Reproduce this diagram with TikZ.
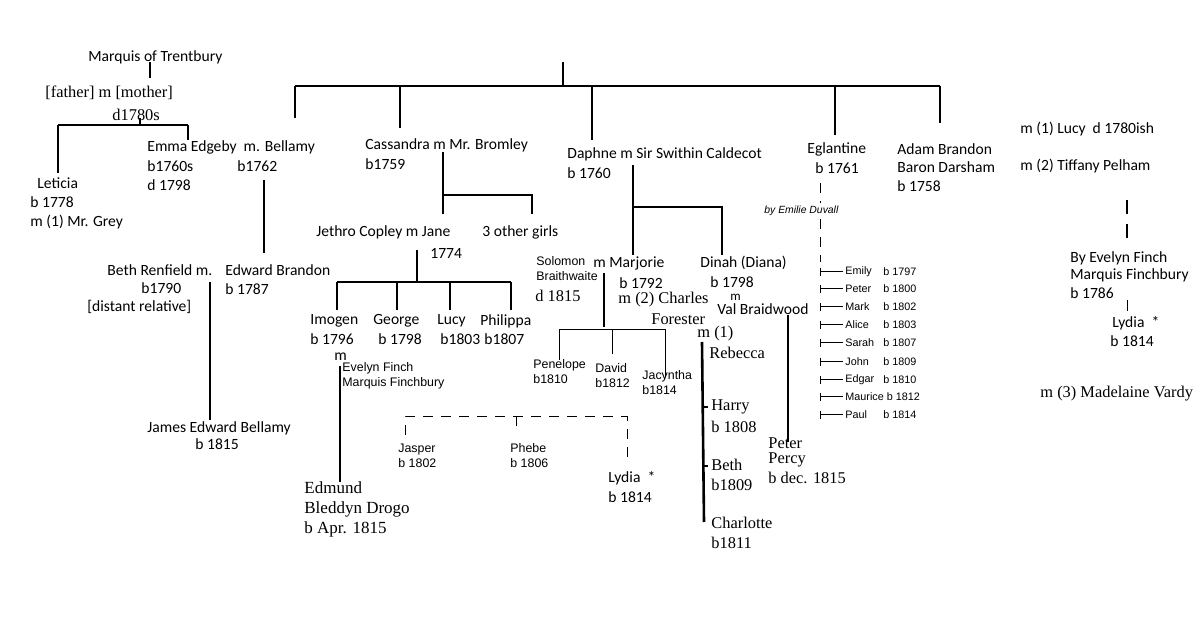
\documentclass[tikz,border=0pt]{standalone}
\usepackage{fontspec}
\setmainfont{Carlito}
\newfontfamily\serf{Liberation Serif}
\newfontfamily\arl{Liberation Sans}
\begin{document}
\begin{tikzpicture}[x=0.5pt,y=-0.5pt,
  t/.style={anchor=west,inner sep=0pt,font=\fontsize{7.8}{8.5}\selectfont,align=left},
  s/.style={anchor=west,inner sep=0pt,font=\fontsize{8.2}{9}\serf,align=left},
  a/.style={anchor=west,inner sep=0pt,font=\fontsize{6.2}{7.5}\arl,align=left},
  sm/.style={anchor=west,inner sep=0pt,font=\fontsize{5.4}{6}\arl},
  thk/.style={line width=1.3pt},
  thn/.style={line width=0.5pt},
  dsh/.style={line width=0.5pt,dash pattern=on 5pt off 4pt}]
\useasboundingbox (0,0) rectangle (1200,630);
\fill[white] (0,0) rectangle (1200,630);
% top structure
\draw[thk] (563,62)--(563,86);
\draw[thk] (295,86)--(940,86);
\draw[thk] (295,86)--(295,118);
\draw[line width=0.8pt] (400,86)--(400,128);
\draw[thk] (592,86)--(592,140);
\draw[thk] (835,86)--(835,135);
\draw[thk] (940,86)--(940,123);
% Marquis
\node[t] (mq) at (88,57) {Marquis of Trentbury};
\draw[thk] (150,62)--(150,78);
\node[s] (fm) at (45,93) {[father] m [mother]};
\node[s] (d80) at (112,115) {d1780s};
\draw[thk] (140,118)--(140,125);
\draw[thk] (58,125)--(188,125);
\draw[thk] (58,125)--(58,173);
\draw[thk] (188,125)--(188,140);
\node[t] (let) at (37,183) {Leticia};
\node[t] at (30,202) {b 1778};
\node[t] at (30,222) {m (1) Mr. Grey};
\node[t] (emma) at (147,147) {Emma Edgeby\ \ m. Bellamy};
\node[t] at (147,166) {b1760s};
\node[t] at (147,185) {d 1798};
\node[t] at (237,166) {b1762};
\draw[thk] (264,180)--(264,253);
\node[t] (beth) at (107,270) {Beth Renfield m.};
\node[t] at (141,288) {b1790};
\node[t] at (87,307) {[distant relative]};
\node[t] (edw) at (225,270) {Edward Brandon};
\node[t] at (225,289) {b 1787};
\draw[line width=0.7pt] (210,282)--(210,420);
\node[t] (jeb) at (147,428) {James Edward Bellamy};
\node[t] at (195,444) {b 1815};
% Cassandra
\node[t] (cas) at (365,145) {Cassandra m Mr. Bromley};
\node[t] at (365,164) {b1759};
\draw[thk] (443,152)--(443,214);
\draw[thk] (443,195)--(532,195)--(532,214);
\node[t] (jane) at (316,232) {Jethro Copley m Jane};
\node[t] at (482,232) {3 other girls};
\node[t] at (430,253) {1774};
\draw[thk] (417,250)--(417,282);
\draw[thk] (337,282)--(511,282);
\foreach \x in {337,397,450,511} \draw[thk] (\x,282)--(\x,310);
\node[t] (imo) at (310,321) {Imogen};
\node[t] at (373,321) {George};
\node[t] at (437,321) {Lucy};
\node[t] at (480,321) {Philippa};
\node[t] at (310,339) {b 1796};
\node[t] at (378,339) {b 1798};
\node[t] at (440,339) {b1803};
\node[t] at (484,339) {b1807};
\node[t] at (334,357) {m};
\draw[thk] (340,366)--(340,482);
\node[a] at (342,376) {Evelyn Finch\\Marquis Finchbury};
\draw[dsh] (405,435)--(405,417)--(627,417)--(627,460);
\draw[thn] (516,417)--(516,426);
\node[a] at (398,456) {Jasper\\b 1802};
\node[a] at (510,456) {Phebe\\b 1806};
\node[t] (lyd) at (608,478) {Lydia\ \ *};
\node[t] at (608,497) {b 1814};
\node[s,font=\fontsize{8.5}{10}\serf] (edm) at (304,509) {Edmund\\Bleddyn Drogo\\b Apr. 1815};
% Daphne
\node[t] (dap) at (567,154) {Daphne m Sir Swithin Caldecot};
\node[t] at (567,173) {b 1760};
\draw[thk] (633,165)--(633,255);
\draw[thk] (633,207)--(722,207)--(722,255);
\node[a] (sol) at (536,269) {Solomon\\Braithwaite};
\node[s] at (535,296) {d 1815};
\node[t] at (593,263) {m Marjorie};
\node[t] at (619,283) {b 1792};
\node[s] at (618,300) {m (2) Charles};
\node[s] at (651,319) {Forester};
\node[t] (din) at (700,263) {Dinah (Diana)};
\node[t] at (710,282) {b 1798};
\node[t,font=\fontsize{6.5}{7}\selectfont] at (730,297) {m};
\node[t] at (717,309) {Val Braidwood};
\node[s] at (697,334) {m (1)};
\node[s] at (709,353) {Rebecca};
\draw[thk] (604,273)--(604,327);
\draw[thn] (559,360)--(559,330)--(665,330)--(665,377);
\draw[thn] (612,330)--(612,354);
\node[a] at (533,372) {Penelope\\b1810};
\node[a] at (595,376) {David\\b1812};
\node[a] at (642,383) {Jacyntha\\b1814};
\draw[thk] (702,342)--(704,522);
\draw[thk] (703,407)--(708,407);
\draw[thk] (703,466)--(708,466);
\node[s] at (711,407) {Harry};
\node[s] at (711,427) {b 1808};
\node[s] at (711,465) {Beth};
\node[s] at (711,485) {b1809};
\node[s] at (711,523) {Charlotte};
\node[s] at (711,543) {b1811};
\draw[thk] (788,315)--(788,442);
\node[s] at (768,443) {Peter};
\node[s] at (768,460) {Percy};
\node[s] at (768,478) {b dec. 1815};
% Eglantine
\node[t] (egl) at (807,149) {Eglantine};
\node[t] at (815,168) {b 1761};
\draw[dsh] (820,183)--(820,203);
\node[anchor=west,inner sep=0pt,font=\fontsize{5.2}{6}\arl\itshape] at (764,211) {by Emilie Duvall};
\draw[dsh] (820,219)--(820,262);
\foreach \n/\d/\y in {Emily/1797/272,Peter/1800/289,Mark/1802/307,Alice/1803/325,Sarah/1807/343,John/1809/362,Edgar/1810/380,Paul/1814/415}{
  \draw[thn] (820,\y)--(843,\y); \draw[thn] (820,\y-4)--(820,\y+4);
  \node[sm] at (845,\y) {\n}; \node[sm] at (883,\y) {b \d};}
\draw[thn] (820,397)--(843,397); \draw[thn] (820,393)--(820,401);
\node[sm] at (845,397) {Maurice b 1812};
% Adam
\node[t] (adam) at (897,149) {Adam Brandon};
\node[t] at (897,167) {Baron Darsham};
\node[t] at (897,186) {b 1758};
% right
\node[t] (luc) at (1020,129) {m (1) Lucy\ \ d 1780ish};
\node[t] at (1020,166) {m (2) Tiffany Pelham};
\draw[line width=1pt,dash pattern=on 7pt off 5pt] (1127,200)--(1127,245);
\node[t] at (1070,258) {By Evelyn Finch};
\node[t] at (1070,275) {Marquis Finchbury};
\node[t] at (1070,293) {b 1786};
\draw[thn] (1127,300)--(1127,311);
\node[t] (lyd2) at (1112,323) {Lydia\ \ *};
\node[t] at (1110,341) {b 1814};
\node[s] (mad) at (1040,394) {m (3) Madelaine Vardy};
\end{tikzpicture}
\end{document}
